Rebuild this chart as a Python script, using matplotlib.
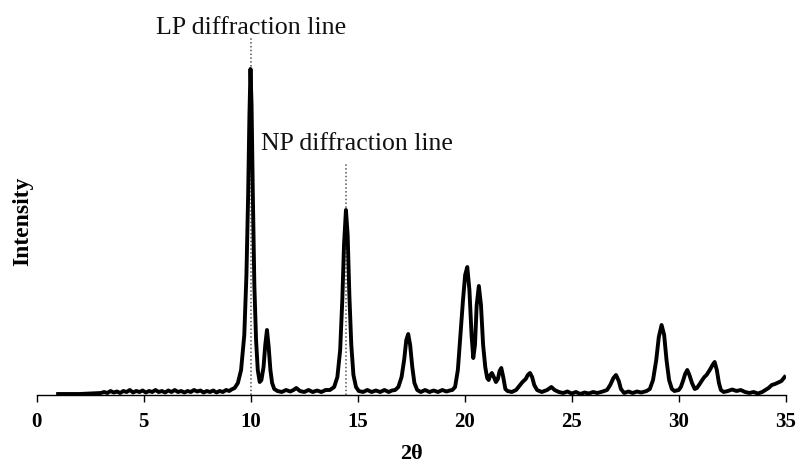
import matplotlib
matplotlib.use("Agg")
import matplotlib.pyplot as plt

# Traced XRD pattern (2-theta, intensity in arbitrary units)
two_theta = [
    1.0, 1.5, 2.0, 2.5,
    3.0, 3.15, 3.3, 3.45, 3.6, 3.75, 3.9, 4.05, 4.2, 4.35, 4.5, 4.65, 4.8, 4.95,
    5.1, 5.25, 5.4, 5.55, 5.7, 5.85, 6.0, 6.15, 6.3, 6.45, 6.6, 6.75, 6.9, 7.05,
    7.2, 7.35, 7.5, 7.65, 7.8, 7.95, 8.1, 8.25, 8.4, 8.55, 8.7, 8.85, 9.0, 9.1, 9.25,
    9.4, 9.55, 9.7, 9.8, 9.88, 9.94, 9.99, 10.04, 10.1, 10.17, 10.25, 10.33, 10.42,
    10.5, 10.6, 10.68, 10.76, 10.84, 10.92, 11.0, 11.1, 11.25,
    11.45, 11.65, 11.85, 12.0, 12.13, 12.3, 12.5, 12.7, 12.9, 13.1, 13.3, 13.5, 13.7,
    13.9, 14.05, 14.18, 14.28, 14.36, 14.45, 14.53, 14.61, 14.7, 14.8, 14.92, 15.05,
    15.25, 15.45, 15.65, 15.85, 16.05, 16.25, 16.45, 16.6, 16.75,
    16.9, 17.05, 17.17, 17.27, 17.36, 17.45, 17.55, 17.65, 17.78,
    17.95, 18.15, 18.35, 18.55, 18.75, 18.95, 19.15, 19.3, 19.42,
    19.55, 19.68, 19.8, 19.92, 20.02, 20.12, 20.22, 20.32, 20.4, 20.48, 20.56, 20.66,
    20.76, 20.86, 20.96, 21.05, 21.12, 21.2, 21.27, 21.36, 21.46, 21.55, 21.63, 21.71,
    21.8, 21.9, 22.0,
    22.2, 22.4, 22.55, 22.7, 22.85, 22.95, 23.05, 23.15, 23.25, 23.38,
    23.6, 23.85, 24.05, 24.2, 24.4, 24.6, 24.8, 25.0, 25.2, 25.4, 25.6, 25.8, 26.0,
    26.2, 26.45,
    26.65, 26.8, 26.95, 27.07, 27.2, 27.3, 27.45, 27.65, 27.85, 28.05, 28.25, 28.5,
    28.65, 28.8, 28.95, 29.07, 29.2, 29.32, 29.43, 29.55, 29.68, 29.8, 30.0,
    30.1, 30.2, 30.3, 30.4, 30.5, 30.62, 30.75, 30.85, 30.98, 31.1, 31.2, 31.3,
    31.45, 31.58, 31.68, 31.78, 31.88, 31.97, 32.1,
    32.3, 32.5, 32.7, 32.9, 33.1, 33.3, 33.5, 33.7, 33.9, 34.05, 34.2, 34.35, 34.5,
    34.65, 34.8, 34.95,
]
intensity = [
    1, 1, 1, 1.5,
    2, 3, 2, 4, 2.5, 3.5, 2, 4, 3, 5, 2.5, 4, 3, 4.5,
    2.5, 4, 3, 5, 3, 4, 2.5, 4.5, 3, 5, 3, 4, 2.5, 4,
    3, 5, 3.5, 4.5, 2.5, 4, 3, 4.5, 2.5, 4, 3, 5, 4, 5.5, 7,
    12, 25, 60, 120, 200, 280, 326, 290, 200, 110, 55, 25, 13,
    15, 28, 50, 65, 48, 25, 12, 6, 4,
    3, 5, 3.5, 5, 7, 4, 3, 5, 3, 4.5, 3, 5, 5,
    8, 18, 45, 95, 150, 185, 160, 100, 50, 20, 8, 4,
    3, 5, 3, 4.5, 3, 5, 3, 4.5, 5,
    8, 18, 35, 55, 61, 50, 28, 12, 5,
    3, 5, 3, 4.5, 3, 5, 3.5, 4.5, 5,
    8, 25, 60, 95, 120, 128, 105, 60, 37, 50, 90, 109,
    90, 50, 28, 17, 15, 20, 22, 18, 13, 16, 24, 27,
    18, 6, 4,
    3, 5, 9, 13, 16, 20, 22, 18, 10, 5,
    3, 5, 8, 5, 3, 2, 3.5, 1.5, 3, 1, 2.5, 1.5, 3,
    2, 3.5,
    5, 10, 17, 20, 14, 6, 2, 3.5, 2, 3.5, 2.5, 4,
    6, 15, 35, 58, 70, 60, 35, 15, 6, 4, 5,
    8, 14, 21, 25, 20, 12, 6, 7, 11, 15, 18, 20,
    25, 30, 33, 25, 12, 5, 3,
    4, 5.5, 4, 5, 3, 2, 3, 1.5, 3, 5, 7, 10, 11,
    12.5, 14, 18,
]

x_ticks = [0, 5, 10, 15, 20, 25, 30, 35]
marker_positions = [10.0, 14.45]
marker_labels = ["LP diffraction line", "NP diffraction line"]

serif = ["Liberation Serif", "DejaVu Serif"]

fig = plt.figure(figsize=(7.98, 4.63), dpi=100)
ax = fig.add_axes([0.046, 1 - 395 / 463, 0.9386, 395 / 463])

ax.plot(two_theta, intensity, color="black", lw=2.8, solid_joinstyle="round", zorder=3)

# dotted marker lines and labels
ax.vlines(marker_positions[0], 0, 357, colors="#555555", linestyles=(0, (1, 1.5)), lw=1.1, zorder=2)
ax.vlines(marker_positions[1], 0, 232, colors="#555555", linestyles=(0, (1, 1.5)), lw=1.1, zorder=2)
ax.text(marker_positions[0], 361, marker_labels[0], ha="center", va="baseline",
        fontsize=18.7, family=serif, color="#111111")
ax.text(14.45 + 0.5, 245, marker_labels[1], ha="center", va="baseline",
        fontsize=18.5, family=serif, color="#111111")

ax.set_xlim(0, 35)
ax.set_ylim(0, 395)
for s in ["top", "right", "left"]:
    ax.spines[s].set_visible(False)
ax.spines["bottom"].set_linewidth(1.0)
ax.set_yticks([])
ax.set_xticks(x_ticks)
ax.set_xticklabels([str(t) for t in x_ticks], fontsize=15, fontweight="bold", family=serif)
ax.tick_params(axis="x", direction="out", length=5, width=1.0, pad=7)

ax.set_xlabel("2θ", fontsize=16, fontweight="bold", family=serif, labelpad=9)
fig.text(0.028, 1 - 221 / 463, "Intensity", rotation=90, ha="center", va="center",
         fontsize=17, fontweight="bold", family=serif)

fig.savefig("out.png", dpi=100)
